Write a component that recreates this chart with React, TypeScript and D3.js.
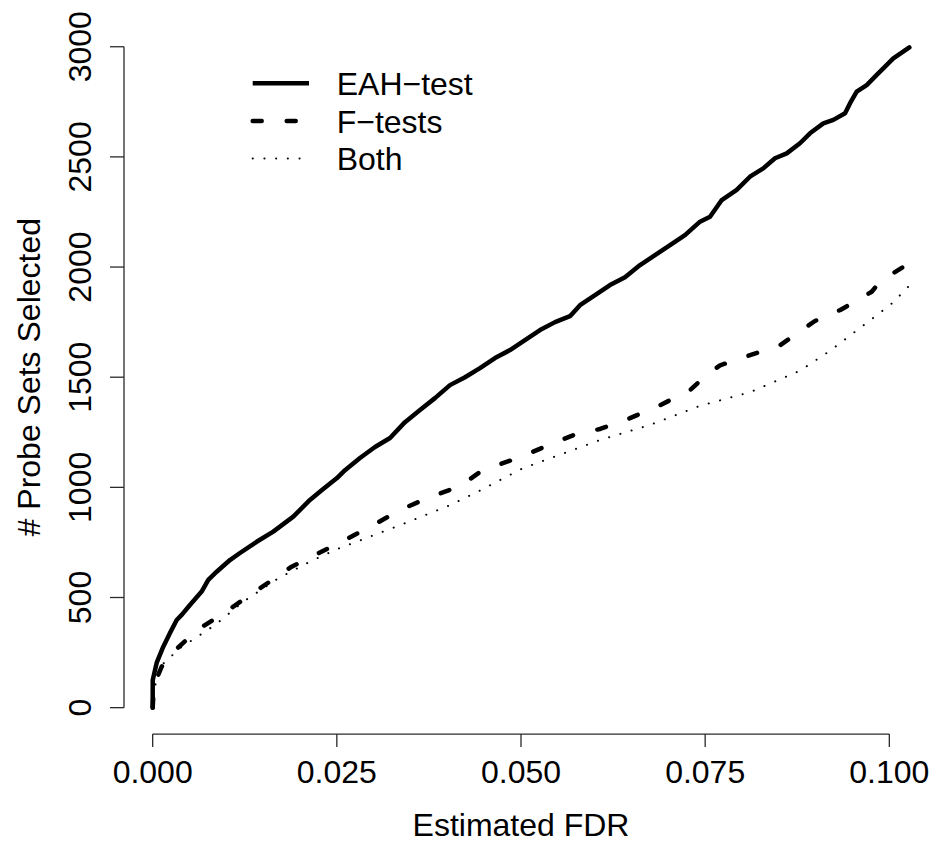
import * as d3 from "d3";

// estimated FDR (x) and number of probe sets selected (y)
const eahFdr = [
  0, 0.00001, 0.00054, 0.00144, 0.00235, 0.00326, 0.00394, 0.00506, 0.00665, 0.00755,
  0.00869, 0.01049, 0.01185, 0.01412, 0.01637, 0.01909, 0.02135, 0.02298, 0.02502, 0.02611,
  0.02814, 0.03018, 0.03222, 0.03425, 0.03629, 0.03832, 0.04036, 0.0424, 0.04443, 0.04647,
  0.04851, 0.05054, 0.05258, 0.05462, 0.05665, 0.05801, 0.06005, 0.06208, 0.06412, 0.06616,
  0.06819, 0.07023, 0.07226, 0.0743, 0.07566, 0.07725, 0.07928, 0.08108, 0.08289, 0.08448,
  0.08607, 0.08787, 0.08923, 0.09104, 0.0924, 0.09399, 0.09467, 0.09557, 0.09693, 0.09829,
  0.09918, 0.10054, 0.10272,
];
const eahN = [
  0, 126, 203, 277, 339, 398, 421, 466, 527, 580,
  617, 670, 702, 753, 799, 867, 943, 988, 1042, 1078,
  1133, 1183, 1224, 1296, 1351, 1405, 1464, 1500, 1541, 1587,
  1623, 1668, 1714, 1750, 1777, 1827, 1872, 1918, 1954, 2009,
  2054, 2099, 2145, 2206, 2228, 2304, 2350, 2410, 2448, 2494,
  2516, 2562, 2607, 2652, 2668, 2698, 2744, 2796, 2826, 2872,
  2902, 2947, 2997,
];

const fFdr = [
  0, 0.00018, 0.00122, 0.00235, 0.00506, 0.00642, 0.01026, 0.01457, 0.01887, 0.02384,
  0.0295, 0.03357, 0.03764, 0.04172, 0.04444, 0.04715, 0.05014, 0.05395, 0.05734, 0.06074,
  0.0648, 0.06888, 0.07295, 0.07512, 0.07702, 0.08109, 0.08516, 0.0899, 0.09334, 0.0949,
  0.09761, 0.09874, 0.1019, 0.1028,
];
const fN = [
  0, 103, 186, 239, 322, 360, 443, 542, 640, 723,
  820, 897, 956, 1005, 1070, 1105, 1140, 1195, 1240, 1265,
  1314, 1373, 1441, 1509, 1554, 1600, 1645, 1755, 1805, 1835,
  1888, 1934, 2001, 2062,
];

const bothFdr = [
  0, 0.00031, 0.00099, 0.00371, 0.00846, 0.0123, 0.01705, 0.02135, 0.02498, 0.03357,
  0.04036, 0.0444, 0.05014, 0.06074, 0.0675, 0.0743, 0.0811, 0.0879, 0.09195, 0.0947,
  0.0982, 0.10046, 0.10258, 0.10349,
];
const bothN = [
  0, 95, 186, 270, 375, 481, 587, 663, 719, 828,
  919, 985, 1085, 1215, 1283, 1370, 1432, 1530, 1620, 1690,
  1779, 1838, 1911, 1949,
];

const xTicks = [0, 0.025, 0.05, 0.075, 0.1];
const yTicks = [0, 500, 1000, 1500, 2000, 2500, 3000];
const legendLabels = ["EAH\u2212test", "F\u2212tests", "Both"];

const width = 936;
const height = 844;
const font = "'Liberation Sans', Arial, Helvetica, sans-serif";

export default function App() {
  // plot region as R computes it: xlim c(0, 0.1), ylim c(0, 3000), 4% padding
  const left = 123.2;
  const right = 918.8;
  const top = 20.3;
  const bottom = 734.1;
  const x = d3.scaleLinear([-0.004, 0.104], [left, right]);
  const y = d3.scaleLinear([-120, 3120], [bottom, top]);

  const line = d3.line<number>().x((d) => x(d[0])).y((d) => y(d[1]));
  const pts = (xs: number[], ys: number[]) => xs.map((v, i) => [v, ys[i]]);

  const series = [
    { d: pts(eahFdr, eahN), w: 4.5, dash: undefined },
    { d: pts(fFdr, fN), w: 4.5, dash: "9,25" },
    { d: pts(bothFdr, bothN), w: 2, dash: "0.1,11.6" },
  ];

  const axisColor = "#2a2a2a";
  const legX = 252.7;
  const legRows = [83.3, 121, 158.4];

  return (
    <svg
      width={width}
      height={height}
      style={{ position: "absolute", left: 0, top: 0, background: "#fff" }}
      fontFamily={font}
    >
      <rect width={width} height={height} fill="#fff" />

      {series.map((s, i) => (
        <path
          key={i}
          d={line(s.d as any) ?? ""}
          fill="none"
          stroke="#000"
          strokeWidth={s.w}
          strokeDasharray={s.dash}
          strokeLinecap="round"
          strokeLinejoin="round"
        />
      ))}

      {/* x axis */}
      <g stroke={axisColor} strokeWidth={1.3} fill="none">
        <line x1={x(xTicks[0])} x2={x(xTicks[xTicks.length - 1])} y1={bottom} y2={bottom} />
        {xTicks.map((t) => (
          <line key={t} x1={x(t)} x2={x(t)} y1={bottom} y2={bottom + 13} />
        ))}
      </g>
      {xTicks.map((t) => (
        <text key={t} x={x(t)} y={782.7} textAnchor="middle" fontSize={32} fill="#000">
          {d3.format(".3f")(t)}
        </text>
      ))}

      {/* y axis */}
      <g stroke={axisColor} strokeWidth={1.3} fill="none">
        <line x1={124} x2={124} y1={y(yTicks[0])} y2={y(yTicks[yTicks.length - 1])} />
        {yTicks.map((t) => (
          <line key={t} x1={124} x2={110} y1={y(t)} y2={y(t)} />
        ))}
      </g>
      {yTicks.map((t) => (
        <text
          key={t}
          transform={`translate(90.5,${y(t)}) rotate(-90)`}
          textAnchor="middle"
          fontSize={32}
          fill="#000"
        >
          {t}
        </text>
      ))}

      {/* axis titles */}
      <text x={(left + right) / 2} y={836} textAnchor="middle" fontSize={32} fill="#000">
        Estimated FDR
      </text>
      <text
        transform={`translate(40,${(top + bottom) / 2}) rotate(-90)`}
        textAnchor="middle"
        fontSize={32}
        fill="#000"
      >
        # Probe Sets Selected
      </text>

      {/* legend, no box */}
      {legendLabels.map((lab, i) => (
        <g key={lab}>
          <line
            x1={legX}
            x2={legX + 56.3}
            y1={legRows[i]}
            y2={legRows[i]}
            stroke="#000"
            strokeWidth={series[i].w}
            strokeDasharray={series[i].dash}
            strokeLinecap={i === 0 ? "butt" : "round"}
          />
          <text x={336.7} y={legRows[i] + 11.6} fontSize={32} fill="#000">
            {lab}
          </text>
        </g>
      ))}
    </svg>
  );
}
